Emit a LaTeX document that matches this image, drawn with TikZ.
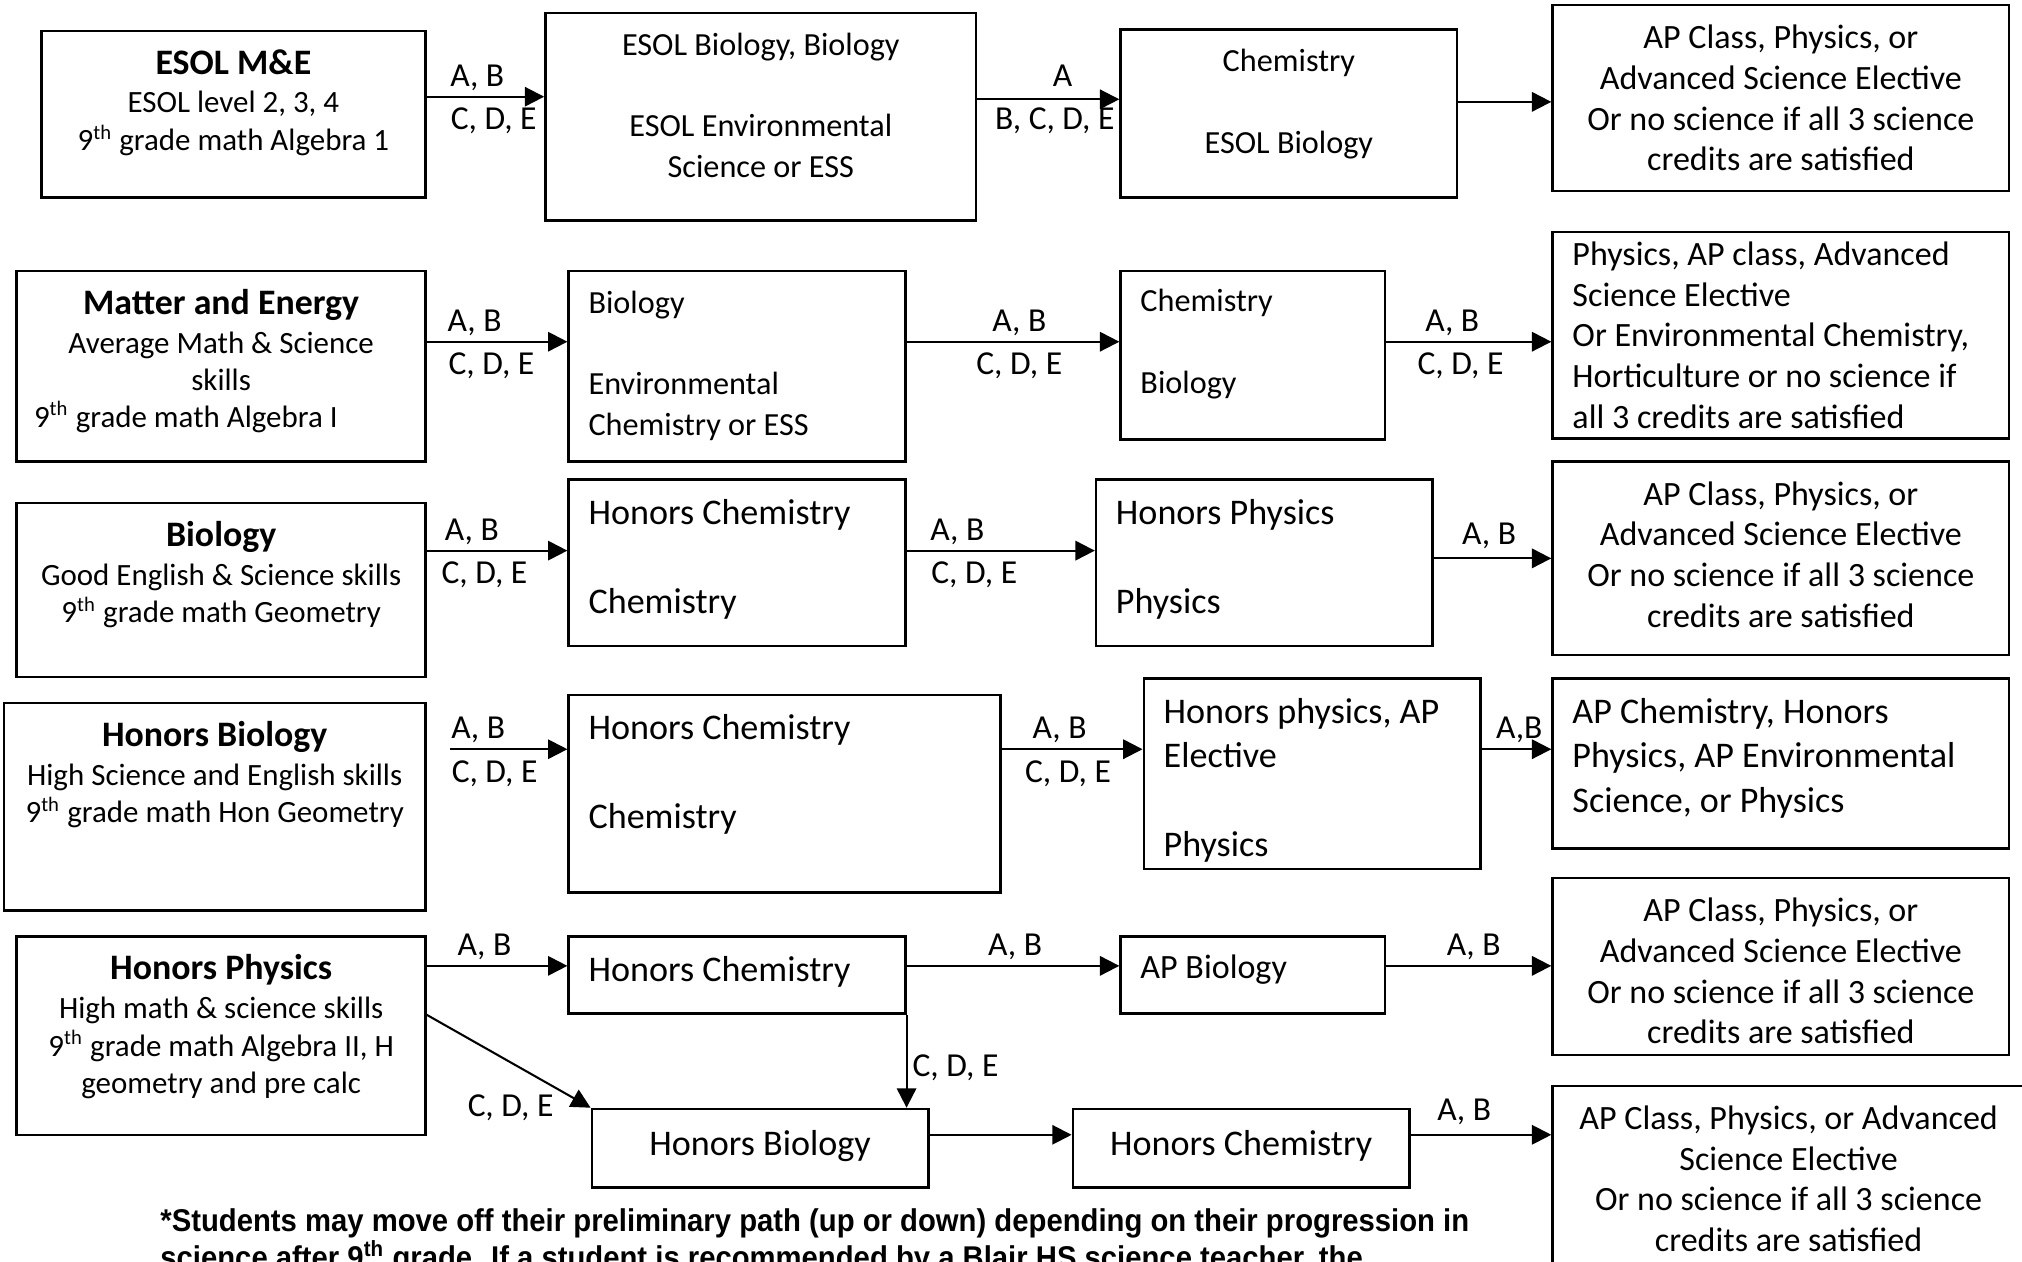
\documentclass[tikz,border=0pt]{standalone}
\usepackage{fontspec}
\setmainfont{Carlito}
\newfontfamily\notefont[FakeStretch=0.93]{Liberation Sans}
\usetikzlibrary{arrows.meta,fit,positioning}
\tikzset{
  box/.style={draw, line width=1pt, inner sep=0pt},
  txt/.style={inner sep=0pt, align=center, font=\fontsize{12.5}{15.8}\selectfont},
  ltxt/.style={txt, align=left},
  rtxt/.style={txt, font=\fontsize{13.2}{15.8}\selectfont},
  first/.style={txt, font=\fontsize{12}{14.5}\selectfont},
  big/.style={txt, align=left, font=\fontsize{14}{17.25}\selectfont},
  lab/.style={inner sep=2pt, font=\fontsize{13}{15}\selectfont},
  arr/.style={line width=0.8pt, -{Triangle[length=7.5pt,width=7.5pt]}},
}
\newcommand{\ttl}[1]{{\fontsize{13.9}{15}\selectfont\bfseries #1}\\[0.5pt]}

\begin{document}
\begin{tikzpicture}[x=0.5pt, y=-0.5pt]
    \useasboundingbox (0,0) rectangle (1568,978);
    % row 1: ESOL
    \node[box, fit={(32,24) (330,153)}] (esol) {};
    \node[first, below=7.5pt of esol.north] (esolT) {\ttl{ESOL M\&E}ESOL level 2, 3, 4\\9\textsuperscript{th} grade math Algebra 1};
    \node[box, fit={(423,10) (757,171)}] (esolB) {};
    \node[txt, below=8pt of esolB.north] (esolBT) {ESOL Biology, Biology\\[15.8pt]ESOL Environmental\\Science or ESS};
    \node[box, fit={(869,23) (1130,153)}] (chem1) {};
    \node[txt, below=8pt of chem1.north] (chem1T) {Chemistry\\[15.8pt]ESOL Biology};
    \node[box, fit={(1204,4) (1558,148)}] (out1) {};
    \node[rtxt, below=8pt of out1.north] (out1T) {AP Class, Physics, or\\Advanced Science Elective\\Or no science if all 3 science\\credits are satisfied};
    \coordinate (r1a) at (0,75);
    \coordinate (r1b) at (0,77);
    \coordinate (r1c) at (0,79);
    \draw[arr] (esol.east |- r1a) -- node[lab, above, pos=.43] (l1a) {A, B} node[lab, below=2pt, pos=.57] (l1b) {C, D, E} (esolB.west |- r1a);
    \draw[arr] (esolB.east |- r1b) -- node[lab, above=2.5pt, pos=.6] (l1c) {A} node[lab, below=1pt, pos=.545] (l1d) {B, C, D, E} (chem1.west |- r1b);
    \draw[arr] (chem1.east |- r1c) -- (out1.west |- r1c);

    % row 2: Matter and Energy
    \node[box, fit={(13,210) (330,358)}] (me) {};
    \node[first, below=7.5pt of me.north] (meT) {\ttl{Matter and Energy}Average Math \& Science\\skills};
    \node[first, below right=51pt and 7pt of me.north west] (meT2) {9\textsuperscript{th} grade math Algebra I};
    \node[box, fit={(441,210) (702,358)}] (bio2) {};
    \node[ltxt, below right=8pt and 8pt of bio2.north west] (bio2T) {Biology\\[15.8pt]Environmental\\Chemistry or ESS};
    \node[box, fit={(869,210) (1074,341)}] (chem2) {};
    \node[ltxt, below right=7.5pt and 8pt of chem2.north west] (chem2T) {Chemistry\\[15.8pt]Biology};
    \node[box, fit={(1204,180) (1558,340)}] (out2) {};
    \node[rtxt, align=left, below right=4pt and 8pt of out2.north west] (out2T) {Physics, AP class, Advanced\\Science Elective\\Or Environmental Chemistry,\\Horticulture or no science if\\all 3 credits are satisfied};
    \coordinate (r2) at (0,265);
    \draw[arr] (me.east |- r2) -- node[lab, above, pos=.34] (l2a) {A, B} node[lab, below=2pt, pos=.46] (l2b) {C, D, E} (bio2.west |- r2);
    \draw[arr] (bio2.east |- r2) -- node[lab, above, pos=.53] (l2c) {A, B} node[lab, below=2pt, pos=.53] (l2d) {C, D, E} (chem2.west |- r2);
    \draw[arr] (chem2.east |- r2) -- node[lab, above, pos=.4] (l2e) {A, B} node[lab, below=2pt, pos=.45] (l2f) {C, D, E} (out2.west |- r2);

    % row 3: Biology
    \node[box, fit={(13,390) (330,525)}] (bio3) {};
    \node[first, below=7.5pt of bio3.north] (bio3T) {\ttl{Biology}Good English \& Science skills\\9\textsuperscript{th} grade math Geometry};
    \node[box, fit={(441,372) (702,501)}] (hc3) {};
    \node[big, below right=8pt and 8pt of hc3.north west] (hc3T) {Honors Chemistry\\[17.25pt]Chemistry};
    \node[box, fit={(850,372) (1111,501)}] (hp3) {};
    \node[big, below right=8pt and 8pt of hp3.north west] (hp3T) {Honors Physics\\[17.25pt]Physics};
    \node[box, fit={(1204,358) (1558,508)}] (out3) {};
    \node[rtxt, below=8pt of out3.north] (out3T) {AP Class, Physics, or\\Advanced Science Elective\\Or no science if all 3 science\\credits are satisfied};
    \coordinate (r3a) at (0,427);
    \coordinate (r3b) at (0,433);
    \draw[arr] (bio3.east |- r3a) -- node[lab, above, pos=.32] (l3a) {A, B} node[lab, below=2pt, pos=.41] (l3b) {C, D, E} (hc3.west |- r3a);
    \draw[arr] (hc3.east |- r3a) -- node[lab, above, pos=.27] (l3c) {A, B} node[lab, below=2pt, pos=.36] (l3d) {C, D, E} (hp3.west |- r3a);
    \draw[arr] (hp3.east |- r3b) -- node[lab, above=1.5pt, pos=.47] (l3e) {A, B} (out3.west |- r3b);

    % row 4: Honors Biology
    \node[box, fit={(3,545) (330,706)}] (hb4) {};
    \node[first, below=7.5pt of hb4.north] (hb4T) {\ttl{Honors Biology}High Science and English skills\\9\textsuperscript{th} grade math Hon Geometry};
    \node[box, fit={(441,539) (776,692)}] (hc4) {};
    \node[big, below right=8pt and 8pt of hc4.north west] (hc4T) {Honors Chemistry\\[17.25pt]Chemistry};
    \node[box, fit={(887,526) (1148,674)}] (hp4) {};
    \node[big, below right=8pt and 8pt of hp4.north west] (hp4T) {Honors physics, AP\\Elective\\[17.25pt]Physics};
    \node[box, fit={(1204,526) (1558,658)}] (out4) {};
    \node[big, below right=8pt and 8pt of out4.north west] (out4T) {AP Chemistry, Honors\\Physics, AP Environmental\\Science, or Physics};
    \coordinate (r4) at (0,581);
    \coordinate[xshift=9pt] (hb4s) at (hb4.east |- r4);
    \draw[arr] (hb4s) -- node[lab, above, pos=.24] (l4a) {A, B} node[lab, below=2pt, pos=.38] (l4b) {C, D, E} (hc4.west |- r4);
    \draw[arr] (hc4.east |- r4) -- node[lab, above, pos=.41] (l4c) {A, B} node[lab, below=2pt, pos=.47] (l4d) {C, D, E} (hp4.west |- r4);
    \draw[arr] (hp4.east |- r4) -- node[lab, above, pos=.54] (l4e) {A,B} (out4.west |- r4);

    % row 5: Honors Physics
    \node[box, fit={(13,726) (330,880)}] (hp5) {};
    \node[first, below=7.5pt of hp5.north] (hp5T) {\ttl{Honors Physics}High math \& science skills\\9\textsuperscript{th} grade math Algebra II, H\\geometry and pre calc};
    \node[box, fit={(441,726) (702,786)}] (hc5) {};
    \node[big, below right=8pt and 8pt of hc5.north west] (hc5T) {Honors Chemistry};
    \node[box, fit={(869,726) (1074,786)}] (apb) {};
    \node[rtxt, align=left, below right=7.5pt and 8pt of apb.north west] (apbT) {AP Biology};
    \node[box, fit={(1204,681) (1558,818)}] (out5) {};
    \node[rtxt, below=8pt of out5.north] (out5T) {AP Class, Physics, or\\Advanced Science Elective\\Or no science if all 3 science\\credits are satisfied};
    \coordinate (r5) at (0,749);
    \draw[arr] (hp5.east |- r5) -- node[lab, above, pos=.41] (l5a) {A, B} (hc5.west |- r5);
    \draw[arr] (hc5.east |- r5) -- node[lab, above, pos=.51] (l5b) {A, B} (apb.west |- r5);
    \draw[arr] (apb.east |- r5) -- node[lab, above, pos=.53] (l5c) {A, B} (out5.west |- r5);

    % row 6: down paths
    \node[box, fit={(459,860) (720,921)}] (hb6) {};
    \node[big, align=center, below=8.5pt of hb6.north] (hb6T) {Honors Biology};
    \node[box, fit={(832,860) (1093,921)}] (hc6) {};
    \node[big, align=center, below=8.5pt of hc6.north] (hc6T) {Honors Chemistry};
    \node[box, fit={(1204,842) (1590,1000)}] (out6) {};
    \node[rtxt, below=8pt of out6.north west, xshift=92pt] (out6T) {AP Class, Physics, or Advanced\\Science Elective\\Or no science if all 3 science\\credits are satisfied};
    \coordinate (r6) at (0,880);
    \coordinate[yshift=8pt] (hp5d) at (hp5.east);
    \draw[arr] (hc5.south east) -- node[lab, right, pos=.57] (l6a) {C, D, E} (hc5.south east |- hb6.north);
    \draw[arr] (hp5d) -- node[lab, at end, left=12pt] (l6b) {C, D, E} (hb6.north west);
    \draw[arr] (hb6.east |- r6) -- (hc6.west |- r6);
    \draw[arr] (hc6.east |- r6) -- node[lab, above=1.5pt, pos=.38] (l6c) {A, B} (out6.west |- r6);

    % note
    \node[anchor=north west, inner sep=0pt, align=left, font=\notefont\bfseries\fontsize{12.2}{12.2}\selectfont] (note) at (124,937) {*Students may move off their preliminary path (up or down) depending on their progression in\\science after 9\textsuperscript{th} grade. If a student is recommended by a Blair HS science teacher, the};
\end{tikzpicture}
\end{document}
